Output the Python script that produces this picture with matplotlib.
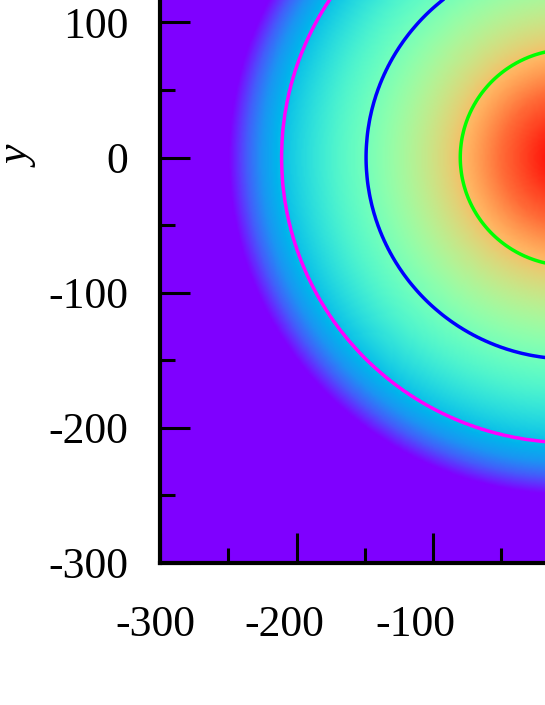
import numpy as np
import matplotlib
matplotlib.use("Agg")
import matplotlib.pyplot as plt
from matplotlib.ticker import MultipleLocator
from matplotlib.transforms import ScaledTranslation

plt.rcParams['axes.unicode_minus'] = False
plt.rcParams['font.family'] = ['Liberation Serif', 'DejaVu Serif']

# ---- data ----
x_range = [-300, 300]
y_range = [-300, 300]
# radial profile of the colour-mapped quantity (radius -> normalised value)
profile_r = [0, 17, 50, 80, 90, 149, 171, 211, 226, 237, 250, 430]
profile_v = [1.0, 0.97, 0.86, 0.73, 0.69, 0.48, 0.41, 0.27, 0.20, 0.12, 0.0, 0.0]
contour_levels = [0.27, 0.48, 0.73]
contour_colors = ['#ff00ff', '#0000ff', '#00ff00']
x_major = 100
x_minor = 50
y_major = 100
y_minor = 50

# ---- field ----
n = 401
xs = np.linspace(x_range[0], x_range[1], n)
ys = np.linspace(y_range[0], y_range[1], n)
X, Y = np.meshgrid(xs, ys)
R = np.hypot(X, Y)
Z = np.interp(R, profile_r, profile_v)

W, H = 545, 705
fig = plt.figure(figsize=(W / 100, H / 100), dpi=100)
ax_left_px, ax_bottom_px = 160, 563
ax_w_px, ax_h_px = 819, 811
ax = fig.add_axes([ax_left_px / W, (H - ax_bottom_px) / H, ax_w_px / W, ax_h_px / H])

ax.imshow(Z, extent=[x_range[0], x_range[1], y_range[0], y_range[1]], origin='lower',
          cmap='rainbow', vmin=0, vmax=1, interpolation='bilinear', aspect='auto')
ax.contour(X, Y, Z, levels=contour_levels, colors=contour_colors, linewidths=2.5)

ax.set_xlim(x_range)
ax.set_ylim(y_range)
ax.xaxis.set_major_locator(MultipleLocator(x_major))
ax.xaxis.set_minor_locator(MultipleLocator(x_minor))
ax.yaxis.set_major_locator(MultipleLocator(y_major))
ax.yaxis.set_minor_locator(MultipleLocator(y_minor))
ax.tick_params(which='both', direction='in', color='black', width=2.2,
               top=True, right=True, labelsize=31.5)
ax.tick_params(which='major', length=21.5)
ax.tick_params(which='minor', length=10.5)
ax.tick_params(axis='x', which='major', pad=30)
ax.tick_params(axis='y', which='major', pad=23)
for s in ax.spines.values():
    s.set_linewidth(3)

ax.set_ylabel('y', fontsize=31.5, style='italic', labelpad=6)

# small horizontal shifts of the x tick labels as they sit in the picture
fig.canvas.draw()
shifts_px = {-300: -5, -200: -12, -100: -18}
for tick in ax.xaxis.get_major_ticks():
    v = round(tick.get_loc())
    if v in shifts_px:
        lab = tick.label1
        lab.set_transform(lab.get_transform() + ScaledTranslation(shifts_px[v] / 100, 0, fig.dpi_scale_trans))

fig.savefig('out.png', dpi=100)
